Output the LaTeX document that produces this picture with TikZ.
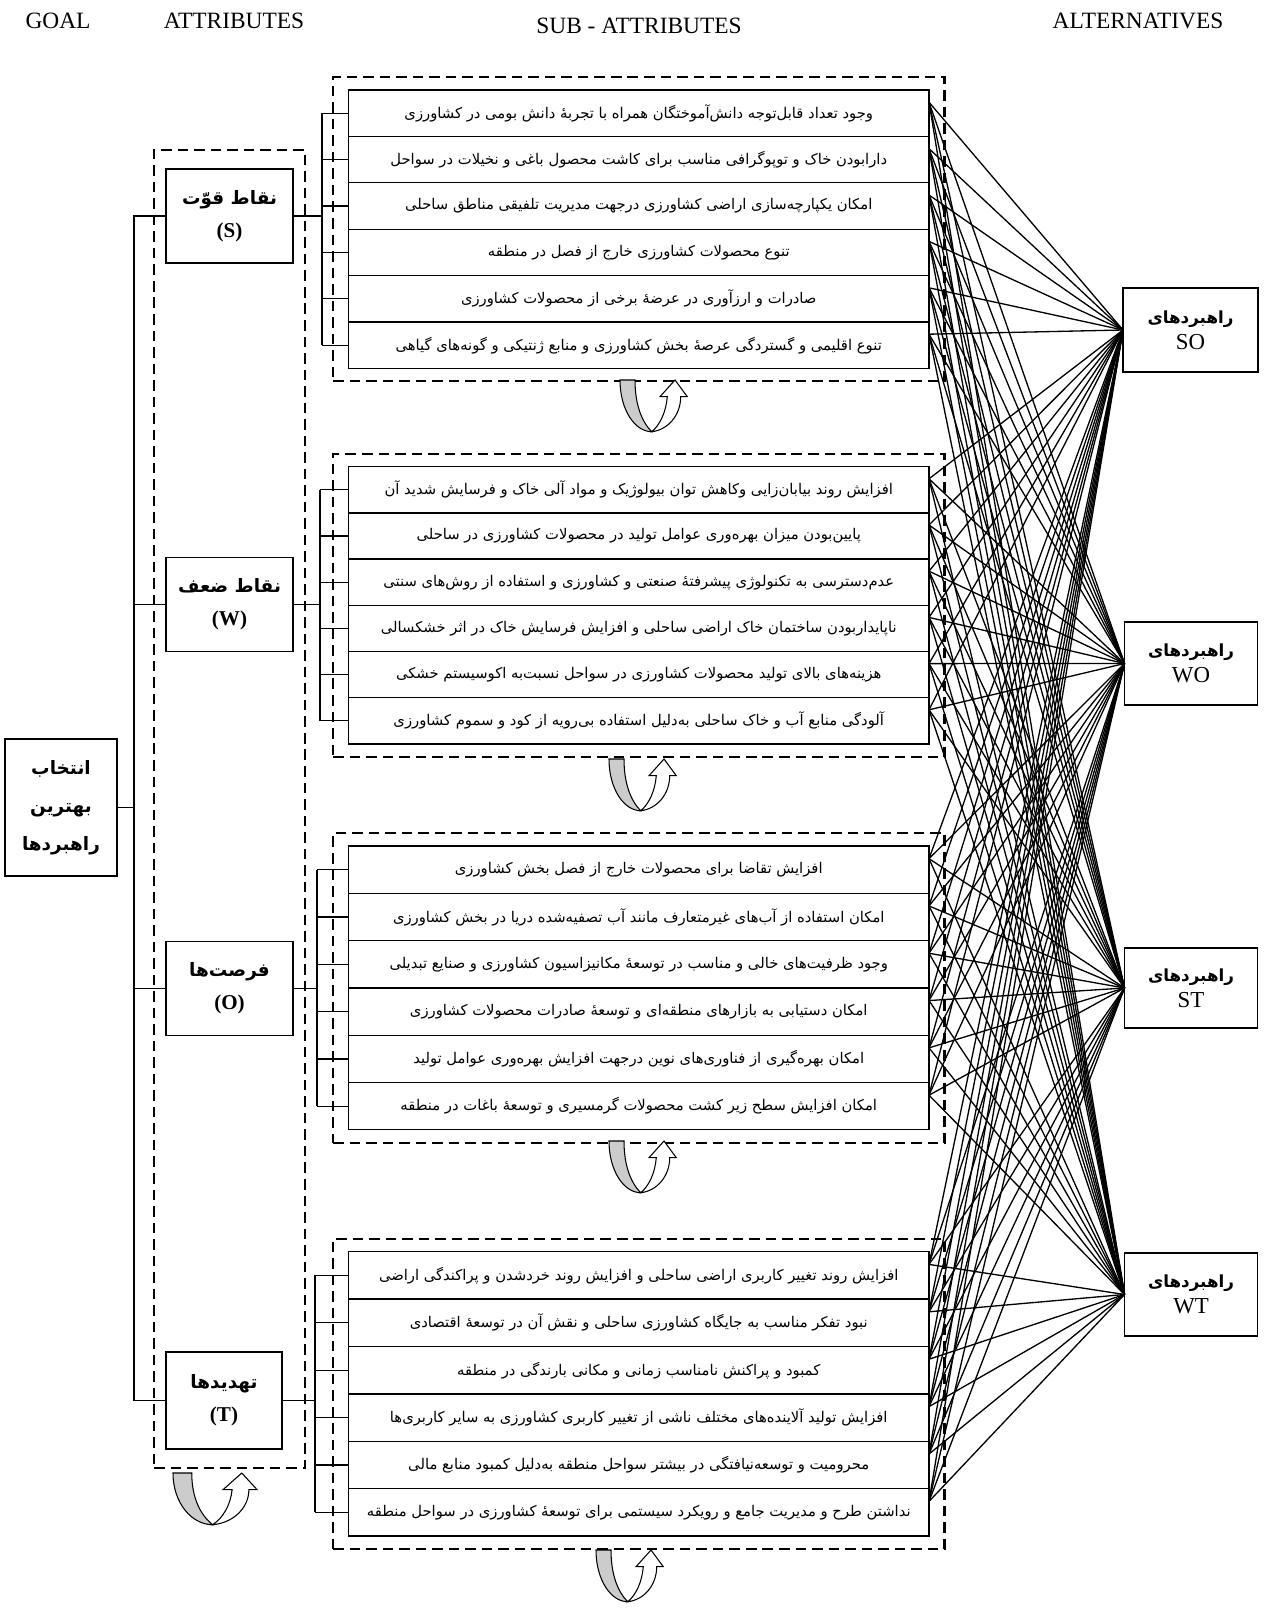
\documentclass[tikz,border=0pt]{standalone}
\usepackage{fontspec}
\setmainfont{Liberation Serif}
\newfontfamily\farsi[Script=Arabic]{DejaVu Sans}
\TeXXeTstate=1
\newcommand{\fa}[1]{{\farsi\beginR #1\endR}}
\newcommand{\lat}[1]{{\fontsize{12}{19}\selectfont #1}}
\usetikzlibrary{positioning,fit}

\begin{document}
\begin{tikzpicture}[
    every node/.style={inner sep=0pt, outer sep=0pt},
    box/.style={draw, line width=0.75pt, align=center},
    subrow/.style={box, minimum width=11.61cm, minimum height=#1, font=\fontsize{8.4}{10}\selectfont},
    subrow/.default=0.928cm,
    attbox/.style={box, minimum width=2.54cm, minimum height=1.88cm, font=\bfseries\fontsize{10.5}{19}\selectfont},
    altbox/.style={box, minimum width=2.66cm, minimum height=1.66cm, font=\fontsize{13}{15}\selectfont},
    dashbox/.style={draw, line width=1.2pt, dash pattern=on 6pt off 3.4pt},
    link/.style={line width=0.75pt},
    head/.style={font=\fontsize{13.3}{15}\selectfont},
    uturn/.pic={
        \filldraw[fill=gray!40, draw=black, line width=0.6pt] (0,0) .. controls (0,-0.6) and (0.3,-1.034) .. (0.634,-1.034) .. controls (0.44,-0.84) and (0.3,-0.5) .. (0.3,0) -- cycle;
        \filldraw[fill=white, draw=black, line width=0.6pt] (0.634,-1.034) .. controls (0.96,-1.0) and (1.214,-0.7) .. (1.214,-0.334) -- (1.346,-0.334) -- (1.1,0) -- (0.8,-0.334) -- (0.946,-0.334) .. controls (0.92,-0.64) and (0.8,-0.9) .. (0.634,-1.034) -- cycle;
    }
]
    \useasboundingbox (0,0) rectangle (25.28,-32.16);

    % column titles
    \node[head] (hGoal) at (1.16,-0.42) {GOAL};
    \node[head] (hAtt) at (4.68,-0.42) {ATTRIBUTES};
    \node[head] (hSub) at (12.78,-0.52) {SUB - ATTRIBUTES};
    \node[head] (hAlt) at (22.76,-0.42) {ALTERNATIVES};

    % goal and attributes
    \node[box, minimum width=2.24cm, minimum height=2.74cm, font=\bfseries\fontsize{10.5}{21.5}\selectfont] (Goal) at (1.22,-16.15) {\fa{انتخاب}\\\fa{بهترین}\\\fa{راهبردها}};
    \node[attbox] (Sbox) at (4.59,-4.32) {\fa{نقاط قو^^^^0651ت}\\\lat{(S)}};
    \node[attbox] (Wbox) at (4.59,-12.09) {\fa{نقاط ضعف}\\\lat{(W)}};
    \node[attbox] (Obox) at (4.59,-19.77) {\fa{فرصت^^^^200cها}\\\lat{(O)}};
    \node[attbox, minimum width=2.32cm, minimum height=1.94cm] (Tbox) at (4.48,-28.01) {\fa{تهدیدها}\\\lat{(T)}};

    % alternatives
    \node[altbox, minimum width=2.70cm, minimum height=1.68cm] (SO) at (23.81,-6.60) {\fa{\bfseries\fontsize{9.5}{15}\selectfont راهبردهای}\\SO};
    \node[altbox] (WO) at (23.82,-13.27) {\fa{\bfseries\fontsize{9.5}{15}\selectfont راهبردهای}\\WO};
    \node[altbox, minimum height=1.60cm] (ST) at (23.82,-19.76) {\fa{\bfseries\fontsize{9.5}{15}\selectfont راهبردهای}\\ST};
    \node[altbox] (WT) at (23.82,-25.89) {\fa{\bfseries\fontsize{9.5}{15}\selectfont راهبردهای}\\WT};

    % strengths
    \node[subrow] (S1) at (12.775,-2.264) {\fa{وجود تعداد قابل^^^^200cتوجه دانش^^^^200cآموختگان همراه با تجربه^^^^0654 دانش بومی در کشاورزی}};
    \node[subrow, below=0pt of S1] (S2) {\fa{دارابودن خاک و توپوگرافی مناسب برای کاشت محصول باغی و نخیلات در سواحل}};
    \node[subrow, below=0pt of S2] (S3) {\fa{امکان یکپارچه^^^^200cسازی اراضی کشاورزی درجهت مدیریت تلفیقی مناطق ساحلی}};
    \node[subrow, below=0pt of S3] (S4) {\fa{تنوع محصولات کشاورزی خارج از فصل در منطقه}};
    \node[subrow, below=0pt of S4] (S5) {\fa{صادرات و ارزآوری در عرضه^^^^0654 برخی از محصولات کشاورزی}};
    \node[subrow, below=0pt of S5] (S6) {\fa{تنوع اقلیمی و گستردگی عرصه^^^^0654 بخش کشاورزی و منابع ژنتیکی و گونه^^^^200cهای گیاهی}};

    % weaknesses
    \node[subrow=0.924cm] (W1) at (12.775,-9.796) {\fa{افزایش روند بیابان^^^^200cزایی وکاهش توان بیولوژیک و مواد آلی خاک و فرسایش شدید آن}};
    \node[subrow=0.924cm, below=0pt of W1] (W2) {\fa{پایین^^^^200cبودن میزان بهره^^^^200cوری عوامل تولید در محصولات کشاورزی در ساحلی}};
    \node[subrow=0.924cm, below=0pt of W2] (W3) {\fa{عدم^^^^200cدسترسی به تکنولوژی پیشرفته^^^^0654 صنعتی و کشاورزی و استفاده از روش^^^^200cهای سنتی}};
    \node[subrow=0.924cm, below=0pt of W3] (W4) {\fa{ناپایداربودن ساختمان خاک اراضی ساحلی و افزایش فرسایش خاک در اثر خشکسالی}};
    \node[subrow=0.924cm, below=0pt of W4] (W5) {\fa{هزینه^^^^200cهای بالای تولید محصولات کشاورزی در سواحل نسبت^^^^200cبه اکوسیستم خشکی}};
    \node[subrow=0.924cm, below=0pt of W5] (W6) {\fa{آلودگی منابع آب و خاک ساحلی به^^^^200cدلیل استفاده بی^^^^200cرویه از کود و سموم کشاورزی}};

    % opportunities
    \node[subrow=0.946cm] (O1) at (12.775,-17.393) {\fa{افزایش تقاضا برای محصولات خارج از فصل بخش کشاورزی}};
    \node[subrow=0.946cm, below=0pt of O1] (O2) {\fa{امکان استفاده از آب^^^^200cهای غیرمتعارف مانند آب تصفیه^^^^200cشده دریا در بخش کشاورزی}};
    \node[subrow=0.946cm, below=0pt of O2] (O3) {\fa{وجود ظرفیت^^^^200cهای خالی و مناسب در توسعه^^^^0654 مکانیزاسیون کشاورزی و صنایع تبدیلی}};
    \node[subrow=0.946cm, below=0pt of O3] (O4) {\fa{امکان دستیابی به بازارهای منطقه^^^^200cای و توسعه^^^^0654 صادرات محصولات کشاورزی}};
    \node[subrow=0.946cm, below=0pt of O4] (O5) {\fa{امکان بهره^^^^200cگیری از فناوری^^^^200cهای نوین درجهت افزایش بهره^^^^200cوری عوامل تولید}};
    \node[subrow=0.946cm, below=0pt of O5] (O6) {\fa{امکان افزایش سطح زیر کشت محصولات گرمسیری و توسعه^^^^0654 باغات در منطقه}};

    % threats
    \node[subrow=0.948cm] (T1) at (12.775,-25.508) {\fa{افزایش روند تغییر کاربری اراضی ساحلی و افزایش روند خردشدن و پراکندگی اراضی}};
    \node[subrow=0.948cm, below=0pt of T1] (T2) {\fa{نبود تفکر مناسب به جایگاه کشاورزی ساحلی و نقش آن در توسعه^^^^0654 اقتصادی}};
    \node[subrow=0.948cm, below=0pt of T2] (T3) {\fa{کمبود و پراکنش نامناسب زمانی و مکانی بارندگی در منطقه}};
    \node[subrow=0.948cm, below=0pt of T3] (T4) {\fa{افزایش تولید آلاینده^^^^200cهای مختلف ناشی از تغییر کاربری کشاورزی به سایر کاربری^^^^200cها}};
    \node[subrow=0.948cm, below=0pt of T4] (T5) {\fa{محرومیت و توسعه^^^^200cنیافتگی در بیشتر سواحل منطقه به^^^^200cدلیل کمبود منابع مالی}};
    \node[subrow=0.948cm, below=0pt of T5] (T6) {\fa{نداشتن طرح و مدیریت جامع و رویکرد سیستمی برای توسعه^^^^0654 کشاورزی در سواحل منطقه}};

    % goal tree
    \coordinate (trunk) at (2.68,-16.15);
    \draw[link] (Goal.east) -- (trunk);
    \draw[link] (Sbox.west) -| (trunk) |- (Tbox.west);
    \draw[link] (Wbox.west) -- (Wbox.west -| trunk);
    \draw[link] (Obox.west) -- (Obox.west -| trunk);

    % brackets to sub-attributes
    \foreach \grp/\bx in {S/6.44, W/6.40, O/6.34, T/6.30} {
        \coordinate (br) at (\bx,0);
        \draw[link] (\grp box.east) -- (\grp box.east -| br);
        \draw[link] (\grp1.west -| br) -- (\grp6.west -| br);
        \foreach \n in {1,...,6} \draw[link] (\grp\n.west -| br) -- (\grp\n.west);
    }

    % every sub-attribute to every alternative
    \foreach \grp in {S,W,O,T}
        \foreach \n in {1,...,6}
            \foreach \strat in {SO,WO,ST,WT}
                \draw[link] ([yshift=0.22cm]\grp\n.east) -- (\strat.west);

    % dashed groups
    \node[dashbox, fit=(Sbox)(Tbox), inner xsep=0.24cm, inner ysep=0.38cm] (attGroup) {};
    \foreach \grp in {S,W,O,T}
        \node[dashbox, fit=(\grp1)(\grp6), inner xsep=0.31cm, inner ysep=0.26cm] (\grp group) {};

    % feedback arrows
    \pic at (12.40,-7.60) {uturn};
    \pic at (12.18,-15.18) {uturn};
    \pic at (12.18,-22.82) {uturn};
    \pic at (11.92,-31.00) {uturn};
    \pic[xscale=1.25] at (3.46,-29.46) {uturn};
\end{tikzpicture}
\end{document}
